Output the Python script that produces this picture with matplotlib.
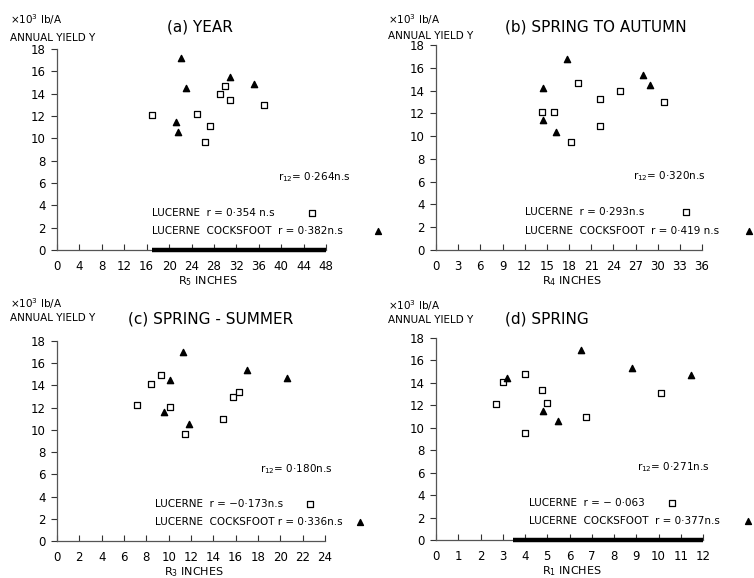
import matplotlib
matplotlib.use("Agg")
import matplotlib.pyplot as plt

# ---------------- data ----------------
# (a) YEAR, x = R5 inches
a_luc_x = [17.0, 24.9, 26.4, 27.3, 29.0, 30.0, 30.9, 36.9]
a_luc_y = [12.1, 12.2, 9.7, 11.1, 14.0, 14.7, 13.4, 13.0]
a_lc_x = [22.2, 23.1, 21.3, 21.6, 30.8, 35.2]
a_lc_y = [17.2, 14.5, 11.5, 10.6, 15.5, 14.9]

# (b) SPRING TO AUTUMN, x = R4 inches
b_luc_x = [14.3, 16.0, 18.3, 19.2, 22.2, 22.2, 24.9, 30.9]
b_luc_y = [12.1, 12.1, 9.5, 14.7, 13.3, 10.9, 14.0, 13.0]
b_lc_x = [14.5, 14.5, 16.2, 17.7, 28.0, 29.0]
b_lc_y = [14.2, 11.4, 10.4, 16.8, 15.4, 14.5]

# (c) SPRING-SUMMER, x = R3 inches
c_luc_x = [7.2, 8.4, 9.3, 10.1, 11.5, 14.9, 15.8, 16.3]
c_luc_y = [12.2, 14.1, 14.9, 12.1, 9.6, 11.0, 13.0, 13.4]
c_lc_x = [11.3, 10.1, 9.6, 11.8, 17.0, 20.6]
c_lc_y = [17.0, 14.5, 11.6, 10.5, 15.4, 14.7]

# (d) SPRING, x = R1 inches
d_luc_x = [2.7, 3.0, 4.0, 4.75, 5.0, 4.0, 6.75, 10.1]
d_luc_y = [12.1, 14.1, 14.8, 13.4, 12.2, 9.5, 11.0, 13.1]
d_lc_x = [3.2, 4.8, 5.5, 6.5, 8.8, 11.45]
d_lc_y = [14.4, 11.5, 10.6, 16.9, 15.3, 14.7]

titles = ["(a) YEAR", "(b) SPRING TO AUTUMN", "(c) SPRING - SUMMER", "(d) SPRING"]
xlabels = ["R$_5$ INCHES", "R$_4$ INCHES", "R$_3$ INCHES", "R$_1$ INCHES"]
xmax = [48, 36, 24, 12]
xstep = [4, 3, 2, 1]
r12_text = ["r$_{12}$= 0·264n.s", "r$_{12}$= 0·320n.s", "r$_{12}$= 0·180n.s", "r$_{12}$= 0·271n.s"]
luc_text = ["LUCERNE  r = 0·354 n.s", "LUCERNE  r = 0·293n.s", "LUCERNE  r = −0·173n.s",
            "LUCERNE  r = − 0·063"]
lc_text = ["LUCERNE  COCKSFOOT  r = 0·382n.s", "LUCERNE  COCKSFOOT  r = 0·419 n.s",
           "LUCERNE  COCKSFOOT r = 0·336n.s", "LUCERNE  COCKSFOOT  r = 0·377n.s"]
unit_text = "×10$^3$ lb/A"
ylab_text = "ANNUAL YIELD Y"
yticks = [0, 2, 4, 6, 8, 10, 12, 14, 16, 18]

luc_x = [a_luc_x, b_luc_x, c_luc_x, d_luc_x]
luc_y = [a_luc_y, b_luc_y, c_luc_y, d_luc_y]
lc_x = [a_lc_x, b_lc_x, c_lc_x, d_lc_x]
lc_y = [a_lc_y, b_lc_y, c_lc_y, d_lc_y]

# ---------------- layout ----------------
plt.rcParams['font.family'] = ['DejaVu Sans']
fig = plt.figure(figsize=(7.54, 5.78), dpi=100)
W, H = 754, 578
boxes = [(57, 250, 326, 49), (436, 250, 702, 45), (57, 541, 325, 341), (436, 540, 703, 338)]

txt_x0 = [0.355, 0.335, 0.366, 0.348]
r12_x = [0.82, 0.74, 0.757, 0.753]
luc_mark_x = [0.948, 0.94, 0.944, 0.883]
lc_mark_x = [1.195, 1.175, 1.13, 1.17]
thick = [(0.355, 1.0), None, None, (0.29, 1.0)]
title_px = [(167, 27), (505, 27), (128, 319), (505, 319)]
ylab_px = [(10, 20, 38), (388, 20, 36), (10, 304, 318), (388, 306, 320)]
xlab_frac = [0.56, 0.51, 0.51, 0.51]

for i in range(4):
    l, b, r, t = boxes[i]
    ax = fig.add_axes([l / W, (H - b) / H, (r - l) / W, (b - t) / H])
    xm = xmax[i]
    ax.set_xlim(0, xm)
    ax.set_ylim(0, 18)
    ax.set_xticks(list(range(0, xm + 1, xstep[i])))
    ax.set_yticks(yticks)
    for s in ["top", "right"]:
        ax.spines[s].set_visible(False)
    for s in ["left", "bottom"]:
        ax.spines[s].set_color("#555555")
        ax.spines[s].set_linewidth(0.9)
    ax.tick_params(axis="y", direction="out", length=4, width=0.8, color="#333333",
                   labelsize=8.5, pad=4)
    ax.tick_params(axis="x", direction="in", length=4, width=0.8, color="#333333",
                   labelsize=8.5, pad=7)

    ax.scatter(luc_x[i], luc_y[i], marker="s", s=18, facecolor="white",
               edgecolor="black", linewidths=0.9, zorder=3)
    ax.scatter(lc_x[i], lc_y[i], marker="^", s=20, color="black", zorder=3)

    if thick[i] is not None:
        ax.plot([thick[i][0] * xm, thick[i][1] * xm], [0, 0], color="black",
                lw=3.2, solid_capstyle="butt", clip_on=False, zorder=4)

    ax.text(xm * r12_x[i], 6.5, r12_text[i], fontsize=7.5, ha="left", va="center")
    ax.text(xm * txt_x0[i], 3.3, luc_text[i], fontsize=7.5, ha="left", va="center")
    ax.text(xm * txt_x0[i], 1.7, lc_text[i], fontsize=7.5, ha="left", va="center")
    ax.scatter([xm * luc_mark_x[i]], [3.3], marker="s", s=16, facecolor="white",
               edgecolor="black", linewidths=0.9, clip_on=False, zorder=3)
    ax.scatter([xm * lc_mark_x[i]], [1.7], marker="^", s=18, color="black",
               clip_on=False, zorder=3)

    ax.set_xlabel(xlabels[i], fontsize=8)
    ax.xaxis.set_label_coords(xlab_frac[i], -0.12)

    tx, ty = title_px[i]
    fig.text(tx / W, 1 - ty / H, titles[i], fontsize=11, ha="left", va="center")
    ux, uy1, uy2 = ylab_px[i]
    fig.text(ux / W, 1 - uy1 / H, unit_text, fontsize=7.5, ha="left", va="center")
    fig.text(ux / W, 1 - uy2 / H, ylab_text, fontsize=7.5, ha="left", va="center")

fig.savefig("out.png", dpi=100)
